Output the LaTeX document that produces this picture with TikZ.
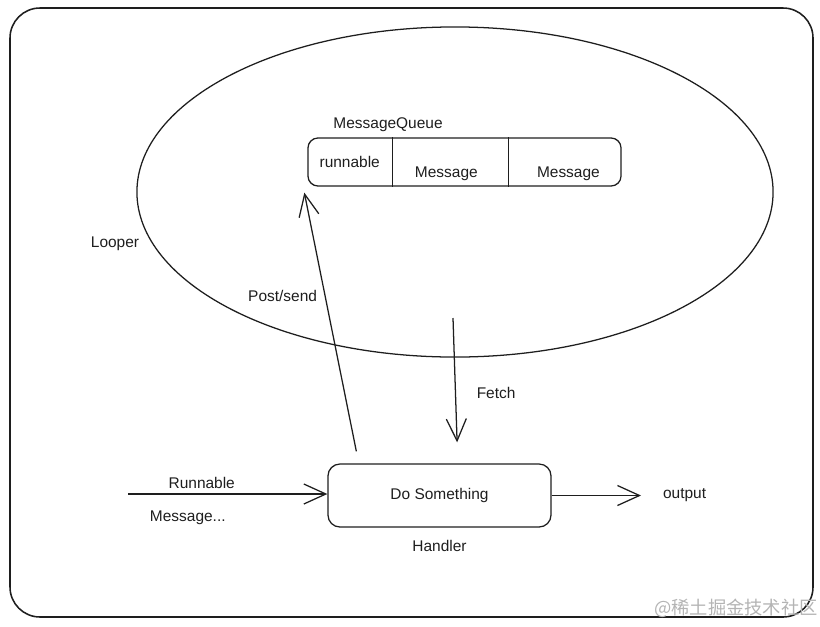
\documentclass[tikz,border=0pt]{standalone}
\usepackage{fontspec}
\setmainfont{Liberation Sans}
\newfontfamily\cjkfont{Noto Sans CJK SC}
\usetikzlibrary{shapes.geometric, arrows.meta, positioning, calc}
\definecolor{mInk} {HTML}{1E1E1E}
\definecolor{mMark}{HTML}{B4B4B4}

\begin{document}
\begin{tikzpicture}[x=0.025cm, y=-0.025cm, color=mInk, line width=0.9pt,
    every node/.style={font=\fontsize{11}{13}\selectfont},
    box/.style={draw, inner sep=0pt},
    arr/.style={-{Straight Barb[length=5.5mm, width=5mm]}}]
  \useasboundingbox (0,0) rectangle (820,626);
  \draw[line width=1.1pt, rounded corners=0.75cm] (10,8) rectangle (813,617);

  % looper and its queue
  \node[draw, ellipse, inner sep=0pt, minimum width=15.9cm,
        minimum height=8.25cm] (loopEll) at (455,192) {};
  \node (looper) at (115,244) {Looper};
  \node[box, rounded corners=0.25cm, minimum width=7.825cm,
        minimum height=1.2cm] (queue) at (464.5,162) {};
  \draw ([xshift=2.125cm]queue.north west) -- ([xshift=2.125cm]queue.south west);
  \draw ([xshift=5.025cm]queue.north west) -- ([xshift=5.025cm]queue.south west);
  \node (qRun)  at ([xshift=1.06cm]queue.west) {runnable};
  \node (qMsgA) at ([xshift=3.475cm, yshift=-0.3cm]queue.west) {Message};
  \node (qMsgB) at ([xshift=6.525cm, yshift=-0.3cm]queue.west) {Message};
  \node[anchor=south west] (qName) at ([xshift=0.52cm]queue.north west)
    {MessageQueue};

  % handler
  \node[box, rounded corners=0.3cm, minimum width=5.575cm,
        minimum height=1.575cm] (handler) at (439.5,495.5) {Do Something};
  \node[below=0.18cm of handler] (handlerName) {Handler};

  \coordinate (inS)    at (128,494);
  \coordinate (outE)   at (641,495.5);
  \coordinate (fetchS) at (453,318);

  \draw[arr] (inS) -- (inS -| handler.west)
    node[pos=0.37, above=0pt] (lblRun) {Runnable}
    node[pos=0.3, below=0.3cm] (lblMsg) {Message...};
  \draw[arr] (handler.east) -- (outE);
  \node[right=0.42cm of outE] (outLbl) {output};

  \draw[arr] ([xshift=0.725cm, yshift=0.3cm]handler.north west)
    -- ([xshift=-0.075cm, yshift=-0.15cm]queue.south west)
    node[pos=0.6, left=2pt] (lblPost) {Post/send};
  \draw[arr] (fetchS) -- ([xshift=0.44cm, yshift=0.525cm]handler.north)
    node[pos=0.6, right=0.4cm] (lblFetch) {Fetch};

  \node[text=mMark, font=\cjkfont\fontsize{13}{13}\selectfont] (mark)
    at (736,608) {@稀土掘金技术社区};
\end{tikzpicture}
\end{document}
